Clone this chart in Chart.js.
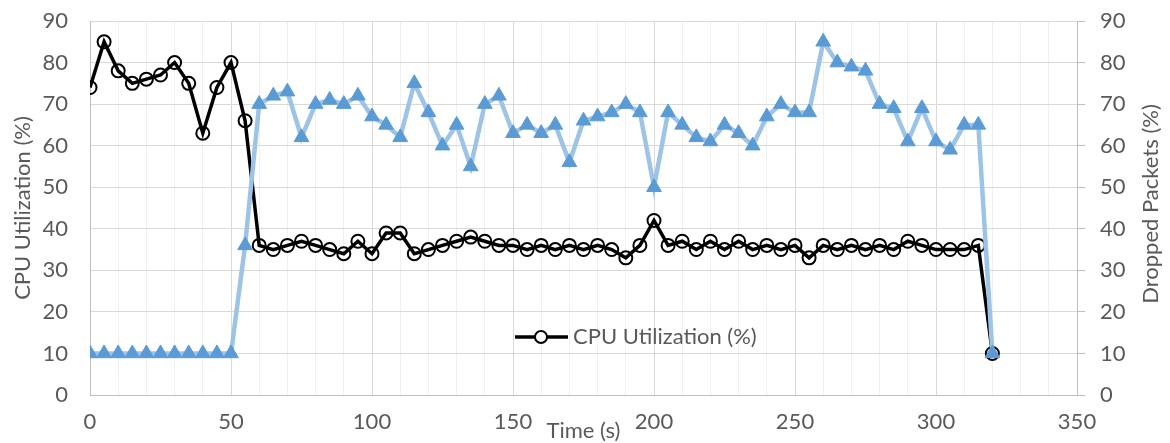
<!DOCTYPE html>
<html>
<head>
<meta charset="utf-8">
<script src="https://cdn.jsdelivr.net/npm/chart.js@4/dist/chart.umd.min.js"></script>
<style>
  html, body { margin: 0; padding: 0; background: #fff; }
  #wrap { width: 1170px; height: 443px; position: relative; }
</style>
</head>
<body>
<div id="wrap"><canvas id="myChart"></canvas></div>
<script>
const times = [0, 5, 10, 15, 20, 25, 30, 35, 40, 45, 50, 55, 60, 65, 70, 75, 80, 85, 90, 95,
  100, 105, 110, 115, 120, 125, 130, 135, 140, 145, 150, 155, 160, 165, 170, 175, 180, 185, 190, 195,
  200, 205, 210, 215, 220, 225, 230, 235, 240, 245, 250, 255, 260, 265, 270, 275, 280, 285, 290, 295,
  300, 305, 310, 315, 320];

const cpuUtil = [74, 85, 78, 75, 76, 77, 80, 75, 63, 74, 80, 66, 36, 35, 36, 37, 36, 35, 34, 37,
  34, 39, 39, 34, 35, 36, 37, 38, 37, 36, 36, 35, 36, 35, 36, 35, 36, 35, 33, 36,
  42, 36, 37, 35, 37, 35, 37, 35, 36, 35, 36, 33, 36, 35, 36, 35, 36, 35, 37, 36,
  35, 35, 35, 36, 10];

const droppedPackets = [10, 10, 10, 10, 10, 10, 10, 10, 10, 10, 10, 36, 70, 72, 73, 62, 70, 71, 70, 72,
  67, 65, 62, 75, 68, 60, 65, 55, 70, 72, 63, 65, 63, 65, 56, 66, 67, 68, 70, 68,
  50, 68, 65, 62, 61, 65, 63, 60, 67, 70, 68, 68, 85, 80, 79, 78, 70, 69, 61, 69,
  61, 59, 65, 65, 10];

const textColor = "#595959";
const fontFamily = "Lato, 'Open Sans', sans-serif";
const fontSize = 22;

// legend sits inside the plot, like the original
const insideLegend = {
  id: "insideLegend",
  afterDatasetsDraw(chart) {
    const ctx = chart.ctx;
    const y = 337;
    ctx.save();
    ctx.strokeStyle = "#000";
    ctx.lineWidth = 3.5;
    ctx.beginPath();
    ctx.moveTo(515, y);
    ctx.lineTo(568, y);
    ctx.stroke();
    ctx.lineWidth = 2;
    ctx.fillStyle = "#fff";
    ctx.beginPath();
    ctx.arc(541, y, 6, 0, Math.PI * 2);
    ctx.fill();
    ctx.stroke();
    ctx.fillStyle = textColor;
    ctx.font = `${fontSize}px ${fontFamily}`;
    ctx.textBaseline = "middle";
    ctx.fillText(chart.data.datasets[0].label, 573, y);
    ctx.restore();
  }
};

// right axis title reads bottom-to-top in the original
const rightTitle = {
  id: "rightTitle",
  afterDraw(chart) {
    const ctx = chart.ctx;
    const area = chart.chartArea;
    ctx.save();
    ctx.translate(1151, (area.top + area.bottom) / 2 - 4);
    ctx.rotate(-Math.PI / 2);
    ctx.fillStyle = textColor;
    ctx.font = `${fontSize}px ${fontFamily}`;
    ctx.textAlign = "center";
    ctx.textBaseline = "middle";
    ctx.fillText("Dropped Packets (%)", 0, 0);
    ctx.restore();
  }
};

// tick padding would otherwise push the plot top down
function fitVertical(width) {
  return (scale) => {
    scale.width = width;
    scale.paddingTop = 0;
    scale.paddingBottom = 0;
  };
}

const canvas = document.querySelector("#myChart");

const data = {
  datasets: [
    {
      label: "CPU Utilization (%)",
      data: times.map((t, i) => ({ x: t, y: cpuUtil[i] })),
      borderColor: "#000",
      borderWidth: 3.5,
      pointStyle: "circle",
      pointRadius: 6.5,
      pointBorderWidth: 2,
      pointBorderColor: "#000",
      pointBackgroundColor: "rgba(0,0,0,0)",
      yAxisID: "y",
      order: 1,
    },
    {
      label: "Dropped Packets (%)",
      data: times.map((t, i) => ({ x: t, y: droppedPackets[i] })),
      borderColor: "#9dc3e6",
      borderWidth: 4.5,
      pointStyle: "triangle",
      pointRadius: 8.5,
      pointBorderWidth: 1,
      pointBorderColor: "#5b9bd5",
      pointBackgroundColor: "#5b9bd5",
      yAxisID: "y2",
      order: 0,
    },
  ],
};

const config = {
  type: "line",
  data: data,
  options: {
    responsive: true,
    maintainAspectRatio: false,
    animation: false,
    layout: { autoPadding: false, padding: { top: 21, left: 0, right: 0, bottom: 0 } },
    elements: { line: { tension: 0 } },
    plugins: {
      legend: { display: false },
      tooltip: { enabled: false },
    },
    scales: {
      x: {
        type: "linear",
        min: 0,
        max: 350,
        border: { color: "#bfbfbf", width: 1 },
        grid: {
          drawTicks: false,
          color: (c) => (c.tick && c.tick.value % 50 === 0 ? "#d9d9d9" : "#f0f0f0"),
        },
        ticks: {
          stepSize: 10,
          autoSkip: false,
          maxRotation: 0,
          padding: 14,
          color: textColor,
          font: { family: fontFamily, size: fontSize },
          callback: (v) => (v % 50 === 0 ? v : ""),
        },
        title: {
          display: true,
          text: "Time (s)",
          color: textColor,
          padding: { top: 0, bottom: -1 },
          font: { family: fontFamily, size: fontSize },
        },
        afterFit: (scale) => { scale.height = 48; },
      },
      y: {
        position: "left",
        min: 0,
        max: 90,
        border: { color: "#bfbfbf", width: 1 },
        grid: { drawTicks: false, color: "#d9d9d9" },
        ticks: {
          stepSize: 10,
          padding: 22,
          color: textColor,
          font: { family: fontFamily, size: fontSize },
        },
        title: {
          display: true,
          text: "CPU Utilization (%)",
          color: textColor,
          padding: { top: 10, bottom: 0 },
          font: { family: fontFamily, size: fontSize },
        },
        afterFit: fitVertical(90),
      },
      y2: {
        position: "right",
        min: 0,
        max: 90,
        border: { color: "#bfbfbf", width: 1 },
        grid: { drawOnChartArea: false, drawTicks: true, tickLength: 8, color: "#bfbfbf" },
        ticks: {
          stepSize: 10,
          padding: 15,
          color: textColor,
          font: { family: fontFamily, size: fontSize },
        },
        title: { display: false },
        afterFit: fitVertical(93),
      },
    },
  },
  plugins: [insideLegend, rightTitle],
};

const myChart = new Chart(canvas, config);
</script>
</body>
</html>
